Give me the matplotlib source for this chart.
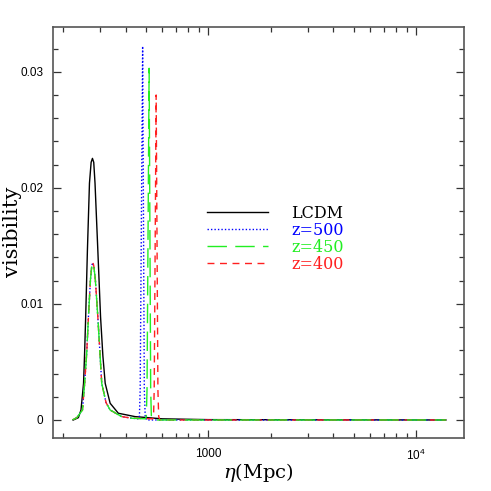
import matplotlib
matplotlib.use("Agg")
import matplotlib.pyplot as plt
from matplotlib.ticker import MultipleLocator, NullFormatter

# conformal time (Mpc) and visibility
eta_lcdm = [224, 237, 244, 251, 254, 257, 262, 268, 273, 277, 281, 285, 294, 303, 311, 319, 337, 369, 444, 600, 1000, 13900]
vis_lcdm = [0.0, 0.0002, 0.00086, 0.00316, 0.0058, 0.0089, 0.01464, 0.0204, 0.0222, 0.02254, 0.0222, 0.0204, 0.01464,
            0.0089, 0.0055, 0.00316, 0.00144, 0.00058, 0.00029, 0.0001, 0.00003, 0.0]

# recombination bump shared by the three early-reionization runs
eta_recomb = [222, 233, 248, 254, 260, 265, 271, 275, 278, 281, 286, 294, 307, 322, 337, 383, 430]
vis_recomb = [0.0, 0.0002, 0.00086, 0.00316, 0.0058, 0.0089, 0.0121, 0.0133, 0.01355, 0.0133, 0.0121, 0.0089,
              0.00316, 0.0015, 0.00086, 0.00029, 0.00015]

eta_z500 = [462, 466, 470, 483, 492, 497, 505, 1000, 13900]
vis_z500 = [0.0001, 0.0003, 0.0026, 0.0322, 0.0026, 0.0003, 0.0, 0.0, 0.0]
eta_z450 = [498, 503, 507, 519, 528, 532, 540, 1000, 13900]
vis_z450 = [0.0001, 0.0003, 0.0026, 0.0303, 0.0026, 0.0003, 0.0, 0.0, 0.0]
eta_z400 = [540, 545, 549, 561, 572, 577, 585, 1000, 13900]
vis_z400 = [0.0001, 0.0003, 0.0026, 0.0280, 0.0026, 0.0003, 0.0, 0.0, 0.0]

labels = ["LCDM", "z=500", "z=450", "z=400"]
colors = ["black", "#0000ff", "#22ee22", "#ff2020"]

plt.rcParams["mathtext.fontset"] = "dejavuserif"

fig = plt.figure(figsize=(4.91, 4.91), dpi=100)
ax = fig.add_axes([0.108, 0.108, 0.838, 0.838])

ax.plot(eta_lcdm, vis_lcdm, color=colors[0], lw=1.0, label=labels[0], zorder=2)
ax.plot(eta_recomb + eta_z500, vis_recomb + vis_z500, color=colors[1], lw=1.0,
        ls=(0, (1, 1.5)), label=labels[1], zorder=3)
ax.plot(eta_recomb + eta_z450, vis_recomb + vis_z450, color=colors[2], lw=1.0,
        ls=(0, (14, 6)), label=labels[2], zorder=5)
ax.plot(eta_recomb + eta_z400, vis_recomb + vis_z400, color=colors[3], lw=1.0,
        ls=(0, (5, 4)), label=labels[3], zorder=4)

ax.set_xscale("log")
ax.set_xlim(179, 17070)
ax.set_ylim(-0.00155, 0.0339)

ax.set_xticks([1000, 10000], ["1000", r"$\mathregular{10^4}$"])
ax.xaxis.set_minor_formatter(NullFormatter())
ax.set_yticks([0, 0.01, 0.02, 0.03], ["0", "0.01", "0.02", "0.03"])
ax.yaxis.set_minor_locator(MultipleLocator(0.002))

ax.tick_params(which="both", direction="in", top=True, right=True, colors="#333333",
               labelcolor="black", labelsize=8.5, pad=7)
ax.tick_params(which="major", length=6, width=0.9)
ax.tick_params(which="minor", length=3.5, width=0.9)
for lab in ax.get_xticklabels() + ax.get_yticklabels():
    lab.set_family("Liberation Sans")
for sp in ax.spines.values():
    sp.set_color("#555555")
    sp.set_linewidth(1.2)

ax.set_xlabel(r"$\eta$(Mpc)", family="DejaVu Serif", fontsize=14)
ax.set_ylabel("visibility", family="DejaVu Serif", fontsize=15)
ax.xaxis.set_label_coords(0.5, -0.056)
ax.yaxis.set_label_coords(-0.075, 0.5)

leg = ax.legend(loc="upper left", bbox_to_anchor=(0.375, 0.566), frameon=False,
                handlelength=3.8, handletextpad=1.45, labelspacing=0.0, borderpad=0,
                borderaxespad=0, prop={"family": "DejaVu Serif", "size": 11.5},
                labelcolor="linecolor")

fig.savefig("out.png", dpi=100)
